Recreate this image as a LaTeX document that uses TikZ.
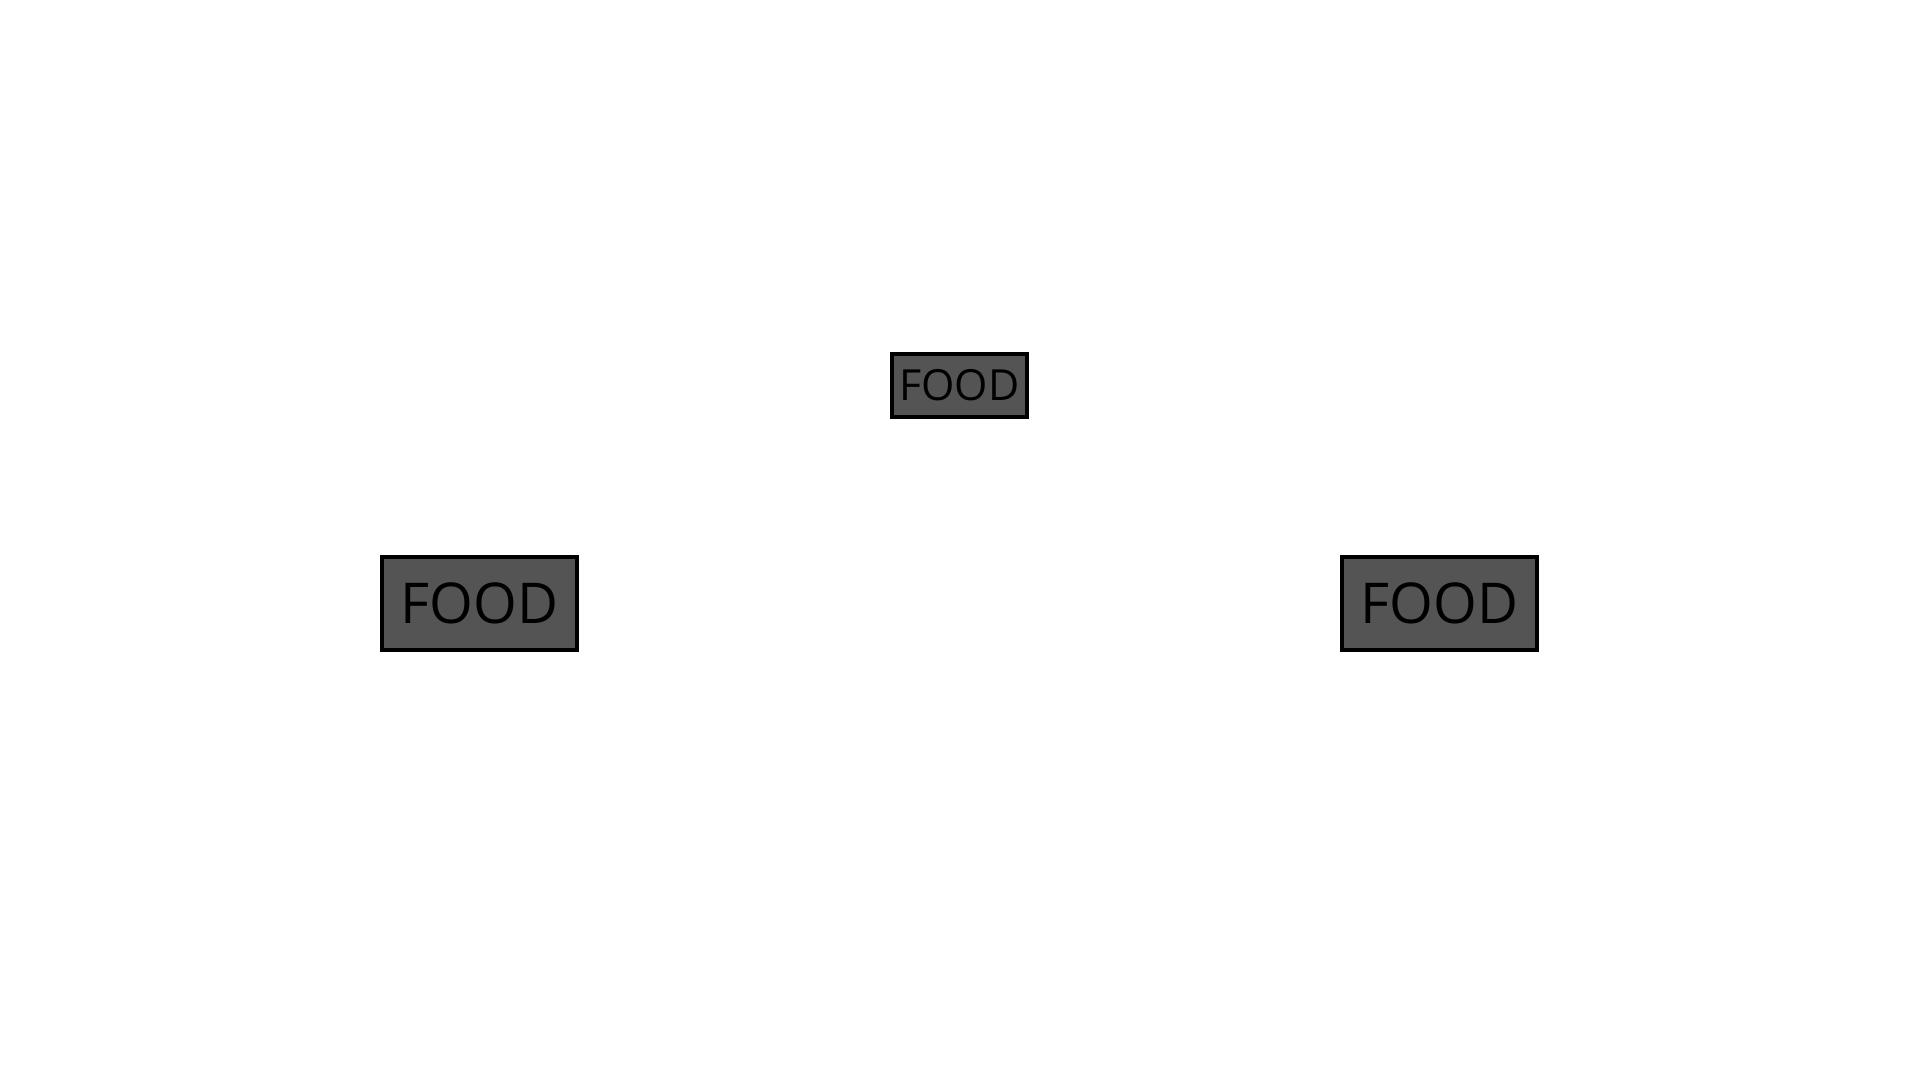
\documentclass[tikz,border=0pt]{standalone}
\usepackage{fontspec}
\setmainfont{Open Sans}
\definecolor{boxgray}{HTML}{545454}
\tikzset{
  foodbox/.style={draw=black, fill=boxgray, line width=1.1pt, inner sep=0pt},
}
\begin{document}
\begin{tikzpicture}
  \useasboundingbox (0,0) rectangle (19.2,10.8);
  \node[foodbox, minimum width=1.35cm, minimum height=0.63cm, font=\fontsize{12.2}{14}\selectfont] (foodtop) at (9.595,6.945) {FOOD};
  \node[foodbox, minimum width=1.95cm, minimum height=0.93cm, font=\fontsize{16}{19}\selectfont] (foodleft) at (4.795,4.765) {FOOD};
  \node[foodbox, minimum width=1.95cm, minimum height=0.93cm, font=\fontsize{16}{19}\selectfont] (foodright) at (14.395,4.765) {FOOD};
\end{tikzpicture}
\end{document}
